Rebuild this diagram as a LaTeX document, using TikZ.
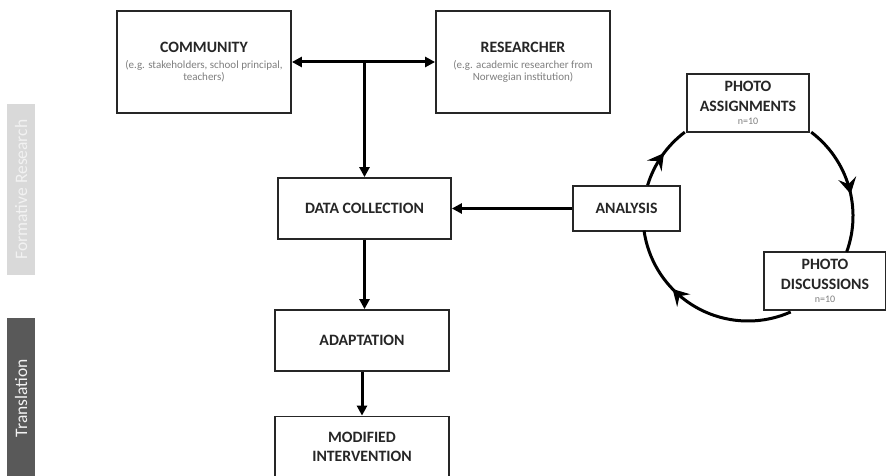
\documentclass[tikz,border=0pt]{standalone}
\usepackage{fontspec}
\setmainfont{Carlito}
\usepackage{xcolor}
\usetikzlibrary{calc, positioning, arrows.meta, decorations.markings}
\definecolor{phaseLight}{HTML}{D9D9D9}
\definecolor{phaseDark}{HTML}{595959}
\definecolor{phaseText}{HTML}{F2F2F2}
\definecolor{noteGrey}{HTML}{7F7F7F}
\definecolor{boxLine}{HTML}{262626}

\tikzset{
    box/.style={rectangle, draw=boxLine, line width=1.8pt, fill=white, align=center,
                inner sep=2pt, text=boxLine, font=\bfseries\fontsize{15.8}{19.5}\selectfont},
    phasebar/.style={rectangle, rotate=90, minimum height=28pt, inner sep=0pt,
                     text=phaseText, font=\fontsize{17.5}{20}\selectfont},
    flow/.style={line width=3pt, -{Triangle[length=10pt, width=10pt]}},
    cyclearc/.style={line width=3pt, postaction={decorate},
                     decoration={markings, mark=at position #1 with
                     {\arrow{Stealth[length=16pt, width=18pt, inset=6pt]}}}}
}
\newcommand{\note}[1]{{\mdseries\color{noteGrey}\fontsize{11}{12.5}\selectfont #1}}

\begin{document}
\begin{tikzpicture}[x=1pt, y=-1pt]
    \useasboundingbox (0,0) rectangle (886,476);
    \clip (0,0) rectangle (886,476);

    % phase bars
    \node[phasebar, fill=phaseLight, minimum width=171pt] (formbar) at (21,189.5) {Formative Research};
    \node[phasebar, fill=phaseDark, minimum width=160pt] (transbar) at (21,398) {Translation};

    % partners
    \node[box, minimum width=174pt, minimum height=102pt] (comm) at (204,62)
        {COMMUNITY\\[-3.5pt]\note{(e.g. stakeholders, school principal,}\\[-7.5pt]\note{teachers)}};
    \node[box, minimum width=174pt, minimum height=102pt] (res) at (523,62)
        {RESEARCHER\\[-3.5pt]\note{(e.g. academic researcher from}\\[-7.5pt]\note{Norwegian institution)}};

    % main flow
    \node[box, minimum width=173pt, minimum height=61pt] (data) at (364.5,208.5) {DATA COLLECTION};
    \node[box, minimum width=174pt, minimum height=61pt] (adapt) at (362,340.5) {ADAPTATION};
    \node[box, minimum width=174pt, minimum height=61pt] (modif) at (362,447) {MODIFIED\\[-1pt]INTERVENTION};

    % photovoice cycle
    \coordinate (cyc) at (748,216);
    \node[box, minimum width=107pt, minimum height=45pt] (ana) at (626.5,208.5) {ANALYSIS};
    \node[box, minimum width=122pt, minimum height=58pt] (assign) at (748,103)
        {PHOTO\\ASSIGNMENTS\\[-6pt]\note{\fontsize{10}{10}\selectfont n=10}};
    \node[box, minimum width=122pt, minimum height=58pt] (disc) at (825,281)
        {PHOTO\\DISCUSSIONS\\[-6pt]\note{\fontsize{10}{10}\selectfont n=10}};

    \coordinate (ana top) at ($(cyc)+(-163:105)$);
    \coordinate (assign out) at ($(cyc)+(-53:105)$);
    \coordinate (disc out) at ($(cyc)+(66:105)$);

    \draw[cyclearc=0.55] (ana top) arc[start angle=163, end angle=127, radius=105pt];
    \draw[cyclearc=0.56] (assign out) arc[start angle=53, end angle=-20, radius=105pt];
    \draw[cyclearc=0.66] (disc out) arc[start angle=-66, end angle=-172, radius=105pt];

    % connectors
    \coordinate (join) at (data.north |- comm.east);
    \draw[line width=3pt, {Triangle[length=10pt, width=10pt]}-{Triangle[length=10pt, width=10pt]}] (comm.east) -- (res.west);
    \draw[flow] (join) -- (data.north);
    \draw[flow] (ana.west) -- (data.east);
    \draw[flow] (data.south) -- (data.south |- adapt.north);
    \draw[flow] (adapt.south) -- (modif.north);
\end{tikzpicture}
\end{document}
